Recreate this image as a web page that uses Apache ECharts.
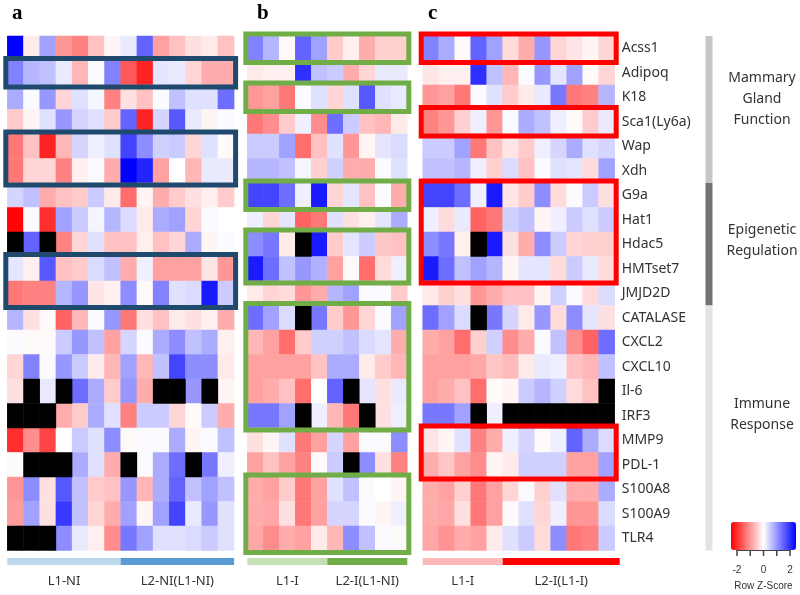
<!DOCTYPE html>
<html><head><meta charset="utf-8">
<script src="https://cdn.jsdelivr.net/npm/echarts@6/dist/echarts.min.js"></script>
<style>html,body{margin:0;padding:0;background:#fff}#c{width:800px;height:595px}</style>
</head><body><div id="c"></div>
<script>
const N = null; // missing value (drawn black)
const genes = ['Acss1','Adipoq','K18','Sca1(Ly6a)','Wap','Xdh','G9a','Hat1','Hdac5','HMTset7','JMJD2D','CATALASE','CXCL2','CXCL10','Il-6','IRF3','MMP9','PDL-1','S100A8','S100A9','TLR4'];

// Panel a: 14 samples (7 L1-NI, 7 L2-NI(L1-NI))
const panelA = [
 [2.5,-0.2,0.9,-1.0,-1.2,-0.6,-0.1,0.2,1.5,-0.9,-0.6,-0.3,-0.2,-0.6],
 [1.2,0.7,0.6,0.2,-0.7,0.05,1.2,-1.6,-2.1,0.25,0.2,-0.4,-0.8,-0.8],
 [0.8,0.05,1.0,-0.4,0.3,0.1,-1.2,-0.3,-0.6,0.05,0.6,0.3,0.3,1.4],
 [-0.5,-0.1,0.3,1.0,0.4,0.3,-0.5,1.5,-2.1,0.4,1.6,0.2,-0.1,0.05],
 [-1.3,-0.6,-2.1,-0.7,0.4,0.15,0.3,1.8,1.1,0.45,0.5,-0.4,0.3,-0.05],
 [-1.3,-0.4,-0.4,-1.2,-0.15,0.05,-0.8,2.5,2.1,-0.9,0,-0.7,0.2,0.2],
 [0.4,0.6,-0.8,-0.6,-0.5,0.5,-0.2,-1.4,-0.1,-0.8,-0.5,-0.3,-0.15,-0.5],
 [-2.4,0.05,-2.0,0.9,0.5,0.1,0.7,0.35,-0.2,0.8,0.9,-0.4,0.05,0],
 [N,1.5,N,-1.2,-0.4,0.3,-0.6,-0.6,-0.15,-0.6,-0.4,0.8,-0.1,0.05],
 [0.25,-0.15,1.6,-0.6,-0.5,0.35,0.6,-0.8,0.15,-0.9,-0.9,-0.9,-0.25,-1.0],
 [-1.3,-1.2,-1.2,0.7,1.0,-0.25,-0.15,1.1,-0.05,1.2,0.3,0.35,2.2,0.5],
 [0.7,-0.3,-0.05,-1.5,-0.7,0.05,1.0,-1.3,-0.3,-0.6,-0.2,-0.3,-0.15,-0.8],
 [0.05,-0.05,-0.05,0.5,1.0,0.6,-0.9,0.4,0.05,0.8,1.1,0.6,0.8,-0.15],
 [-0.4,1.2,0.05,1.0,0.5,-0.2,-0.7,0.9,-0.7,0.6,1.8,1.1,1.1,-0.2],
 [-0.3,N,0.2,N,1.4,0.8,-0.5,1.0,-0.8,N,N,1.0,N,-0.1],
 [N,N,N,-0.8,-0.5,0.8,0.3,-1.2,0.5,0.5,-0.4,-0.05,0.5,-0.8],
 [-2.0,-1.1,-1.8,0,0.5,0.3,1.1,-0.05,0.05,0.05,0.8,-0.1,0.05,0.6],
 [-0.05,N,N,N,0.8,0.3,-0.8,N,0.05,0.8,1.4,N,1.3,0.15],
 [-1.0,1.1,-0.3,1.6,0.6,-0.5,-0.6,1.0,-0.7,0.8,1.5,0.6,0.9,0.6],
 [-0.95,0.9,-0.3,1.9,0.6,-0.4,-0.8,0.9,-0.1,0.9,1.8,0.2,1.0,0.3],
 [N,N,N,1.1,0.2,-0.15,-1.1,1.3,0.9,0.3,0.3,0.35,0.5,0.3]
];

// Panel b: 10 samples (5 L1-I, 5 L2-I(L1-NI))
const panelB = [
 [1.2,0.7,-0.05,1.5,0.9,-0.5,-0.15,-0.8,-0.45,-0.45],
 [-0.2,-0.15,-0.15,2.0,0.6,0.5,-0.8,-0.4,0.2,0.2],
 [-1.0,-0.9,-1.3,0.05,0.3,-0.4,0.3,1.6,0.3,0.2],
 [-1.3,-1.1,-0.5,0.15,-1.1,1.4,0.5,-0.6,-0.7,-0.2],
 [0.5,0.5,0.9,-1.4,-0.6,0.3,-1.0,-0.1,0.25,0.35],
 [0.7,0.7,0.6,0.1,-0.45,0.45,-0.8,-0.8,0.05,0.3],
 [1.8,1.8,1.4,0.15,2.2,-0.4,0.25,-0.6,0.05,-0.8],
 [0.15,-0.4,0.25,-1.5,-1.3,0.3,-0.3,-0.15,0.25,0.8],
 [1.1,1.3,-0.2,N,2.2,-0.5,0.25,0.5,-0.55,-0.6],
 [2.2,1.4,0.6,1.0,0.75,-0.9,-0.05,-1.4,-0.35,0.15],
 [-0.2,-0.4,-0.35,-1.0,-0.8,0.7,0.9,0.05,0.05,-0.5],
 [1.4,0.9,0.35,N,1.3,-0.5,-1.0,-0.4,0.05,0.9],
 [-0.7,-0.9,-1.4,-0.5,0.45,0.45,0.6,0.35,0.25,-0.8],
 [-0.9,-0.9,-0.9,-0.9,-0.6,0.8,0.8,-0.2,-0.5,-0.7],
 [-0.9,-0.8,-0.6,-1.4,0,1.5,N,0.25,-0.3,0.2],
 [1.3,1.3,0.9,N,0.15,-0.7,-1.3,N,-0.3,0.15],
 [-0.3,-0.1,0.3,-1.3,-0.9,0.4,-0.9,0.05,0.05,1.1],
 [-0.9,-0.6,-0.9,-1.2,-0.05,0.5,N,1.1,-0.3,-1.2],
 [-0.8,-0.9,-0.5,-1.3,-0.9,0.3,0.6,0.05,0,-0.1],
 [-0.8,-0.85,-0.3,-1.3,-0.9,0.4,0.4,0.05,-0.1,0.15],
 [-0.85,-1.1,-0.8,-0.9,-0.2,-0.7,1.1,0.6,0.05,-0.05]
];

// Panel c: 12 samples (5 L1-I, 7 L2-I(L1-I))
const panelC = [
 [1.2,0.8,-0.05,1.5,0.9,-0.35,-0.8,1.0,-0.4,-0.25,-0.1,-0.4],
 [-0.25,-0.15,-0.15,2.0,0.6,-0.7,0.05,1.0,0.25,0.9,-0.05,-0.4],
 [-1.0,-0.9,-1.3,0.05,0.3,-0.5,-0.2,0.2,1.3,-1.3,-1.2,0.7],
 [-1.2,-1.0,-0.45,0.15,-1.0,0.05,0.8,0.6,0.15,-0.05,-0.5,0.2],
 [0.5,0.5,0.9,-1.3,-0.6,-0.25,-0.5,0.15,0.4,0.8,0.3,0.4],
 [0.6,0.6,0.7,0.15,-0.45,0.35,-0.6,0.05,0.3,0.25,-0.35,0.9],
 [1.8,1.8,1.4,0.15,2.2,-0.25,-0.5,1.1,-0.35,0.05,0.5,-0.3],
 [0.15,-0.35,0.2,-1.5,-1.3,0.45,0.6,-0.1,0.15,0.5,0.3,0.5],
 [1.1,1.3,-0.15,N,2.2,-0.3,-0.8,1.1,0.5,-0.4,-0.45,-0.45],
 [2.2,1.4,0.6,0.9,0.7,-0.1,0.25,0.25,-0.35,0.5,0.2,-0.35],
 [-0.2,-0.45,-0.3,-1.0,-0.8,-0.6,-0.6,-0.1,0.45,0.05,-0.35,0.35],
 [1.4,0.9,0.35,N,1.3,0.4,-0.2,1.0,-0.35,1.1,0.25,-0.3],
 [-0.8,-0.9,-1.4,-0.45,0.45,-1.1,-0.8,0.05,0.6,-1.1,-1.5,1.4],
 [-0.9,-0.9,-0.9,-0.85,-0.55,-0.65,-0.2,0.2,0.15,-0.6,-0.7,0.6],
 [-0.9,-0.8,-0.6,-1.4,-0.05,-0.1,0.5,0.7,0.45,-0.35,-0.6,N],
 [1.3,1.3,0.9,N,0.15,N,N,N,N,N,N,N],
 [-0.25,-0.1,0.3,-1.2,-0.8,0.15,0.4,-0.05,0.15,1.5,0.8,0.35],
 [-0.8,-0.55,-0.9,-1.1,-0.1,-0.2,0.45,0.45,0.45,-0.9,-0.9,0.9],
 [-0.8,-0.9,-0.45,-1.3,-0.9,-0.4,0.05,-0.45,0.3,-0.8,-0.8,0.8],
 [-0.8,-0.85,-0.3,-1.3,-0.9,-0.05,0.3,-0.4,0.15,-1.0,-1.0,0.35],
 [-0.85,-1.05,-0.8,-0.9,-0.2,0.3,0.5,-0.35,1.1,-1.3,-1.2,0.5]
];

const panelLetters = ['a','b','c'];
const groupNames = [['L1-NI','L2-NI(L1-NI)'],['L1-I','L2-I(L1-NI)'],['L1-I','L2-I(L1-I)']];
const groupSizes = [[7,7],[5,5],[5,7]];
const boxRows = [ [[1,1],[4,5],[9,10]], [[0,0],[2,2],[6,6],[8,9],[11,15],[18,20]], [[0,0],[3,3],[6,9],[16,17]] ];
const categories = [
 {name:'Mammary\nGland\nFunction', from:0, to:5},
 {name:'Epigenetic\nRegulation', from:6, to:10},
 {name:'Immune\nResponse', from:11, to:20}
];
const zTicks = [-2,-1,0,1,2];
const zTickLabels = [-2,0,2];

// ---- layout / style ----
const panels = [panelA, panelB, panelC];
const gridLeft = [7.3, 247.3, 422.7];
const cellW = [16.2, 16, 16];
const TOP = 36, HEIGHT = 514.5, rowH = HEIGHT / genes.length;
const boxColor = ['#1f4a6d','#70ad47','#ff0000'];
const groupColors = [['#bdd7ee','#5b9bd5'],['#c5e0b4','#70ad47'],['#ffb9b9','#ff0000']];
const catColors = ['#c6c6c6','#767171','#e3e3e3'];
const catTextY = [99, 241, 415];
const letterX = [12, 257, 428];
const ZMIN = -2.45, ZMAX = 2.45;
const LEG = {x:731, y:522, w:65, h:28};
const FONT = 'Noto Sans';

const grids = [], xAxes = [], yAxes = [], series = [], graphics = [];
panels.forEach((p, i) => {
  const nCol = p[0].length;
  const w = cellW[i] * nCol;
  grids.push({left: gridLeft[i], top: TOP, width: w, height: HEIGHT});
  xAxes.push({type:'category', gridIndex:i, data: p[0].map((_, j) => String(j+1)), show:false});
  yAxes.push({type:'category', gridIndex:i, data: genes, inverse:true, show: i === 2,
    position:'right', axisLine:{show:false}, axisTick:{show:false}, splitLine:{show:false},
    axisLabel:{margin:7, fontSize:14, color:'#333', fontFamily:FONT}});
  const vals = [], na = [];
  p.forEach((row, r) => row.forEach((v, c) => { if (v === null) na.push([c, r, 0]); else vals.push([c, r, v]); }));
  series.push({type:'heatmap', xAxisIndex:i, yAxisIndex:i, data: vals, itemStyle:{borderWidth:0}, emphasis:{disabled:true}});
  series.push({type:'heatmap', xAxisIndex:i, yAxisIndex:i, data: na, itemStyle:{color:'#000', borderWidth:0}, emphasis:{disabled:true}});

  // highlight boxes
  boxRows[i].forEach(([r0, r1]) => {
    graphics.push({type:'rect', z:100, shape:{x: gridLeft[i]-1.5, y: TOP + r0*rowH - 2, width: w + 3, height: (r1-r0+1)*rowH + 4},
      style:{fill:'none', stroke: boxColor[i], lineWidth: 5}});
  });
  // group bars + labels
  let c0 = 0;
  groupSizes[i].forEach((n, g) => {
    const x0 = gridLeft[i] + c0*cellW[i];
    const ww = n*cellW[i] + (i === 2 && g === 1 ? 5 : 0);
    graphics.push({type:'rect', shape:{x:x0, y:558, width: ww, height:7}, style:{fill: groupColors[i][g]}});
    graphics.push({type:'text', x: x0 + ww/2, y: 581, style:{text: groupNames[i][g], align:'center', verticalAlign:'middle', fontSize:13, fill:'#333', fontFamily:FONT}});
    c0 += n;
  });
  graphics.push({type:'text', x: letterX[i], y: 14, style:{text: panelLetters[i], align:'left', verticalAlign:'middle', fontSize:21, fontWeight:'bold', fill:'#000', fontFamily:'Liberation Serif'}});
});

// category side bar
categories.forEach((c, k) => {
  graphics.push({type:'rect', shape:{x:705.5, y: TOP + c.from*rowH, width:7, height:(c.to-c.from+1)*rowH}, style:{fill: catColors[k]}});
  graphics.push({type:'text', x: 762, y: catTextY[k], style:{text: c.name, align:'center', verticalAlign:'middle', fontSize:14, lineHeight:21, fill:'#333', fontFamily:FONT}});
});

// colour key ticks and labels
const zx = v => LEG.x + (v - ZMIN) / (ZMAX - ZMIN) * LEG.w;
graphics.push({type:'line', shape:{x1: zx(zTicks[0]), y1: LEG.y+LEG.h+0.5, x2: zx(zTicks[zTicks.length-1]), y2: LEG.y+LEG.h+0.5}, style:{stroke:'#444', lineWidth:1}});
zTicks.forEach(v => graphics.push({type:'line', shape:{x1: zx(v), y1: LEG.y+LEG.h, x2: zx(v), y2: LEG.y+LEG.h+6}, style:{stroke:'#444', lineWidth:1.5}}));
zTickLabels.forEach(v => graphics.push({type:'text', x: zx(v), y: 570, style:{text: String(v), align:'center', verticalAlign:'middle', fontSize:10, fill:'#333', fontFamily:'Liberation Sans'}}));
graphics.push({type:'text', x: zx(0), y: 586, style:{text:'Row Z-Score', align:'center', verticalAlign:'middle', fontSize:10, fill:'#333', fontFamily:'Liberation Sans'}});

const chart = echarts.init(document.getElementById('c'), null, {renderer:'canvas'});
chart.setOption({
  animation:false,
  backgroundColor:'#fff',
  grid: grids, xAxis: xAxes, yAxis: yAxes, series: series,
  visualMap: {type:'continuous', min:ZMIN, max:ZMAX, seriesIndex:[0,2,4], orient:'horizontal',
    left: LEG.x, top: LEG.y, itemWidth: LEG.h, itemHeight: LEG.w, padding:0, calculable:false, hoverLink:false,
    inRange:{color:['#ff0000','#ffffff','#0000ff']}, text:null},
  graphic: graphics
});
</script></body></html>
